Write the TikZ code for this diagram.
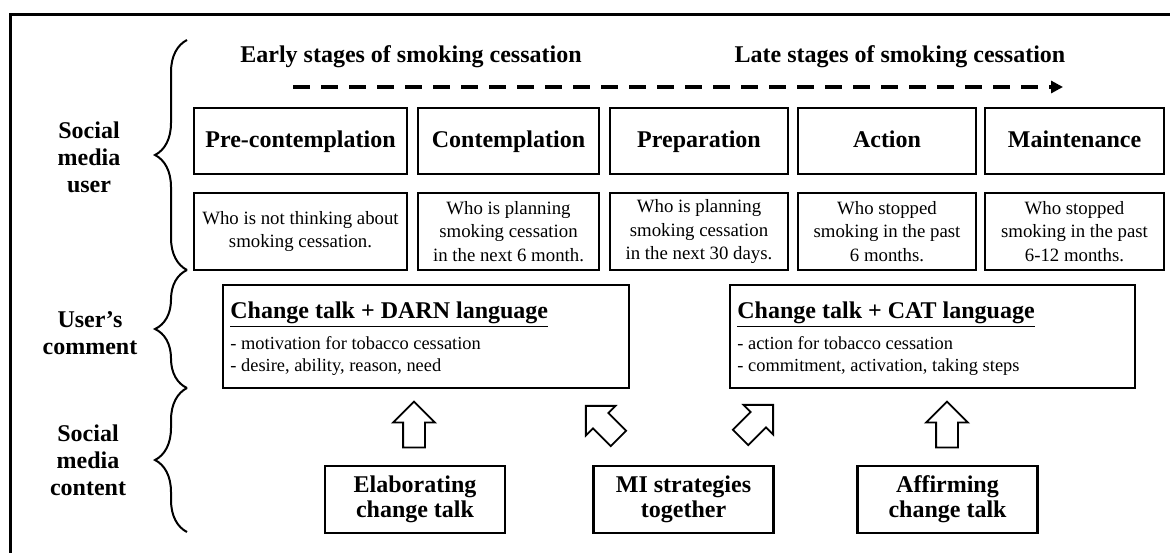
\documentclass[tikz,border=0pt]{standalone}
\usepackage{fontspec}
\setmainfont{Liberation Serif}
\usetikzlibrary{arrows.meta,decorations.pathreplacing,shapes.arrows}

\begin{document}
\begin{tikzpicture}[x=0.5pt, y=-0.5pt,
	stage/.style={draw, line width=1pt, inner sep=0pt, minimum height=33pt, text height=8.5pt, text depth=2.5pt, font=\fontsize{12}{14}\selectfont\bfseries},
	desc/.style={draw, line width=1pt, inner sep=0pt, minimum height=38.5pt, align=center, font=\fontsize{9.4}{11.7}\selectfont},
	side/.style={align=center, font=\fontsize{12}{13.5}\selectfont\bfseries},
	comment/.style={draw, line width=1pt, inner sep=0pt, minimum height=51.5pt},
	talk/.style={anchor=west, inner sep=0pt, font=\fontsize{12}{14}\selectfont\bfseries},
	point/.style={anchor=west, inner sep=0pt, font=\fontsize{9.2}{11}\selectfont},
	strategy/.style={draw, line width=1.2pt, inner sep=0pt, minimum width=90pt, minimum height=33.5pt, align=center, font=\fontsize{12}{12.5}\selectfont\bfseries},
	push/.style={single arrow, draw, line width=0.9pt, inner sep=0pt, text height=10pt, text depth=0pt, minimum height=23pt, single arrow head extend=5pt},
	curly/.style={decorate, decoration={brace, amplitude=16pt}, line width=1pt}]
	\clip (0,0) rectangle (1170,552);
	\draw[line width=1.5pt] (10,14) rectangle (1200,600);

	\node[side] (user) at (89,157) {Social\\media\\user};
	\node[side] (comm) at (90,333) {User's\\comment};
	\node[side] (cont) at (88,460) {Social\\media\\content};
	\draw[curly] (187,270) -- (187,40);
	\draw[curly] (187,388) -- (187,270);
	\draw[curly] (187,532) -- (187,388);

	\node[font=\fontsize{12}{14}\selectfont\bfseries] (early) at (411,57) {Early stages of smoking cessation};
	\node[font=\fontsize{12}{14}\selectfont\bfseries] (late) at (900,57) {Late stages of smoking cessation};
	\coordinate (from) at (293,87);
	\coordinate (to) at (1063,87);
	\draw[line width=2pt, dash pattern=on 8.5pt off 5.5pt, -{Triangle[length=6pt,width=6pt]}] (from) -- (to);

	\node[stage, minimum width=106.5pt] (pre) at (300.5,141) {Pre-contemplation};
	\node[stage, minimum width=90.5pt] (con) at (508.5,141) {Contemplation};
	\node[stage, minimum width=89pt] (prep) at (699,141) {Preparation};
	\node[stage, minimum width=89pt] (act) at (887,141) {Action};
	\node[stage, minimum width=89.5pt] (main) at (1074.5,141) {Maintenance};

	\node[desc, minimum width=106.5pt] (preD) at (300.5,231.5) {Who is not thinking about\\smoking cessation.};
	\node[desc, minimum width=90.5pt] (conD) at (508.5,231.5) {Who is planning\\smoking cessation\\in the next 6 month.};
	\node[desc, minimum width=89pt] (prepD) at (699,231.5) {Who is planning\\smoking cessation\\in the next 30 days.};
	\node[desc, minimum width=89pt] (actD) at (887,231.5) {Who stopped\\smoking in the past\\6 months.};
	\node[desc, minimum width=89.5pt] (mainD) at (1074.5,231.5) {Who stopped\\smoking in the past\\6-12 months.};

	\node[comment, minimum width=203pt] (darn) at (426,336.5) {};
	\node[talk] (darnT) at (230,315) {\underline{Change talk + DARN language}};
	\node[point] (darn1) at (230,343) {- motivation for tobacco cessation};
	\node[point] (darn2) at (230,367) {- desire, ability, reason, need};
	\node[comment, minimum width=202.5pt] (cat) at (932.5,336.5) {};
	\node[talk] (catT) at (737,315) {\underline{Change talk + CAT language}};
	\node[point] (cat1) at (737,343) {- action for tobacco cessation};
	\node[point] (cat2) at (737,367) {- commitment, activation, taking steps};

	\node[push, rotate=90] (upE) at (414,430) {};
	\node[push, rotate=135] (upL) at (606,426) {};
	\node[push, rotate=45] (upR) at (753,425) {};
	\node[push, rotate=90] (upA) at (947,430) {};

	\node[strategy] (elab) at (415,499.5) {Elaborating\\change talk};
	\node[strategy] (mi) at (683.5,499.5) {MI strategies\\together};
	\node[strategy] (aff) at (947.5,499.5) {Affirming\\change talk};
\end{tikzpicture}
\end{document}
